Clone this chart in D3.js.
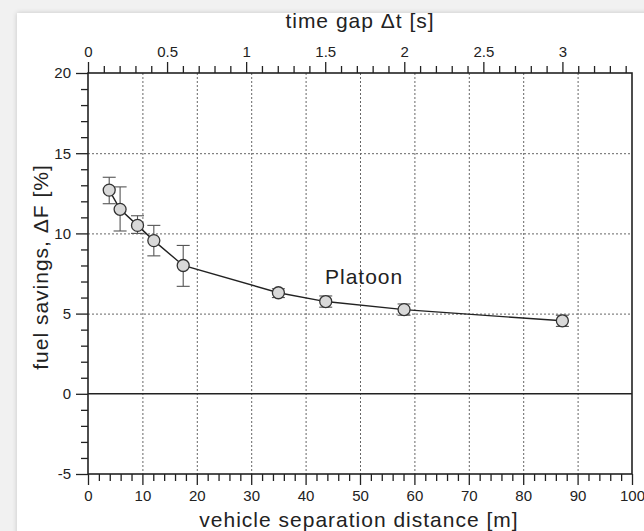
<!DOCTYPE html>
<html>
<head>
<meta charset="utf-8">
<script src="https://cdn.jsdelivr.net/npm/d3@7.9.0/dist/d3.min.js"></script>
<style>
  html, body { margin: 0; padding: 0; background: #f1f1f1; overflow: hidden; }
  #card { position: absolute; left: 17px; top: 13px; width: 660px; height: 560px; background: #fff;
          box-shadow: 0 0 5px rgba(0,0,0,0.18); }
  svg { position: absolute; left: 0; top: 0; }
  text { font-family: "Liberation Sans", Arial, sans-serif; fill: #222; }
  .lbl { font-size: 21px; letter-spacing: 1px; }
</style>
</head>
<body>
<div id="card"></div>
<svg id="chart" width="644" height="531"></svg>
<script>
const distance = [3.9, 5.9, 9.1, 12.1, 17.5, 35.0, 43.7, 58.1, 87.2];
const savings  = [12.7, 11.5, 10.5, 9.55, 8.0, 6.3, 5.75, 5.25, 4.55];
const errLow   = [11.85, 10.15, 10.0, 8.6, 6.7, 6.0, 5.4, 4.9, 4.2];
const errHigh  = [13.5, 12.9, 11.1, 10.5, 9.25, 6.55, 6.1, 5.6, 4.9];

const xMajor = d3.range(0, 101, 10);
const xMinor = d3.range(0, 101, 2).filter(v => v % 10 !== 0);
const yMajor = [-5, 0, 5, 10, 15, 20];
const yMinor = d3.range(-5, 21, 1).filter(v => v % 5 !== 0);
const tMajor = [0, 0.5, 1, 1.5, 2, 2.5, 3];
const tMinor = d3.range(0, 35).map(i => i / 10).filter(v => Math.round(v * 10) % 5 !== 0);

const data = distance.map((d, i) => ({ d, s: savings[i], lo: errLow[i], hi: errHigh[i] }));

const svg = d3.select("#chart");
const pL = 88, pR = 632, pT = 73, pB = 474;

const x = d3.scaleLinear().domain([0, 100]).range([pL, pR]);
const y = d3.scaleLinear().domain([-5, 20]).range([pB, pT]);
const t = d3.scaleLinear().domain([0, 3.44]).range([pL, pR]);
const plain = d => String(d);

// dotted grid
const grid = svg.append("g").attr("stroke", "#666").attr("stroke-width", 1).attr("stroke-dasharray", "2,2");
grid.selectAll(".gx").data(xMajor.slice(1, -1)).enter().append("line")
    .attr("x1", d => x(d) + 0.5).attr("x2", d => x(d) + 0.5).attr("y1", pT).attr("y2", pB);
grid.selectAll(".gy").data([5, 10, 15]).enter().append("line")
    .attr("y1", d => y(d) + 0.5).attr("y2", d => y(d) + 0.5).attr("x1", pL).attr("x2", pR);

// zero line
svg.append("line").attr("x1", pL).attr("x2", pR).attr("y1", y(0)).attr("y2", y(0))
    .attr("stroke", "#222").attr("stroke-width", 1.5);

function styleAxis(g) {
    g.select(".domain").remove();
    g.selectAll(".tick line").attr("stroke", "#222").attr("stroke-width", 1.3);
    g.selectAll("text").style("font-size", "15px").attr("fill", "#222");
}

// bottom axis
svg.append("g").attr("transform", `translate(0,${pB})`)
    .call(d3.axisBottom(x).tickValues(xMinor).tickSize(7).tickFormat(""))
    .call(styleAxis);
svg.append("g").attr("transform", `translate(0,${pB})`)
    .call(d3.axisBottom(x).tickValues(xMajor).tickSize(11).tickPadding(5).tickFormat(plain))
    .call(styleAxis);

// left axis
svg.append("g").attr("transform", `translate(${pL},0)`)
    .call(d3.axisLeft(y).tickValues(yMinor).tickSize(7).tickFormat(""))
    .call(styleAxis);
svg.append("g").attr("transform", `translate(${pL},0)`)
    .call(d3.axisLeft(y).tickValues(yMajor).tickSize(12).tickPadding(5).tickFormat(plain))
    .call(styleAxis);

// top axis (time gap)
svg.append("g").attr("transform", `translate(0,${pT})`)
    .call(d3.axisTop(t).tickValues(tMinor).tickSize(7).tickFormat(""))
    .call(styleAxis);
svg.append("g").attr("transform", `translate(0,${pT})`)
    .call(d3.axisTop(t).tickValues(tMajor).tickSize(11).tickPadding(5).tickFormat(plain))
    .call(styleAxis);

// frame
svg.append("rect").attr("x", pL).attr("y", pT).attr("width", pR - pL).attr("height", pB - pT)
    .attr("fill", "none").attr("stroke", "#222").attr("stroke-width", 1.6);

// error bars
const eb = svg.append("g").attr("stroke", "#555").attr("stroke-width", 1.1);
eb.selectAll(".v").data(data).enter().append("line")
    .attr("x1", d => x(d.d)).attr("x2", d => x(d.d)).attr("y1", d => y(d.lo)).attr("y2", d => y(d.hi));
eb.selectAll(".ch").data(data).enter().append("line")
    .attr("x1", d => x(d.d) - 6.5).attr("x2", d => x(d.d) + 6.5).attr("y1", d => y(d.hi)).attr("y2", d => y(d.hi));
eb.selectAll(".cl").data(data).enter().append("line")
    .attr("x1", d => x(d.d) - 6.5).attr("x2", d => x(d.d) + 6.5).attr("y1", d => y(d.lo)).attr("y2", d => y(d.lo));

// line + markers
svg.append("path").datum(data)
    .attr("d", d3.line().x(d => x(d.d)).y(d => y(d.s)))
    .attr("fill", "none").attr("stroke", "#222").attr("stroke-width", 1.4);
svg.selectAll("circle").data(data).enter().append("circle")
    .attr("cx", d => x(d.d)).attr("cy", d => y(d.s)).attr("r", 6)
    .attr("fill", "#d9d9d9").attr("stroke", "#333").attr("stroke-width", 1.3);

// labels
svg.append("text").attr("class", "lbl").attr("x", 325).attr("y", 284).text("Platoon");
svg.append("text").attr("class", "lbl").attr("x", (pL + pR) / 2).attr("y", 28).attr("text-anchor", "middle")
    .text("time gap Δt [s]");
svg.append("text").attr("class", "lbl").attr("x", 359).attr("y", 527).attr("text-anchor", "middle")
    .text("vehicle separation distance [m]");
svg.append("text").attr("class", "lbl").attr("transform", "translate(48,267) rotate(-90)")
    .attr("text-anchor", "middle").text("fuel savings, ΔF [%]");
</script>
</body>
</html>
